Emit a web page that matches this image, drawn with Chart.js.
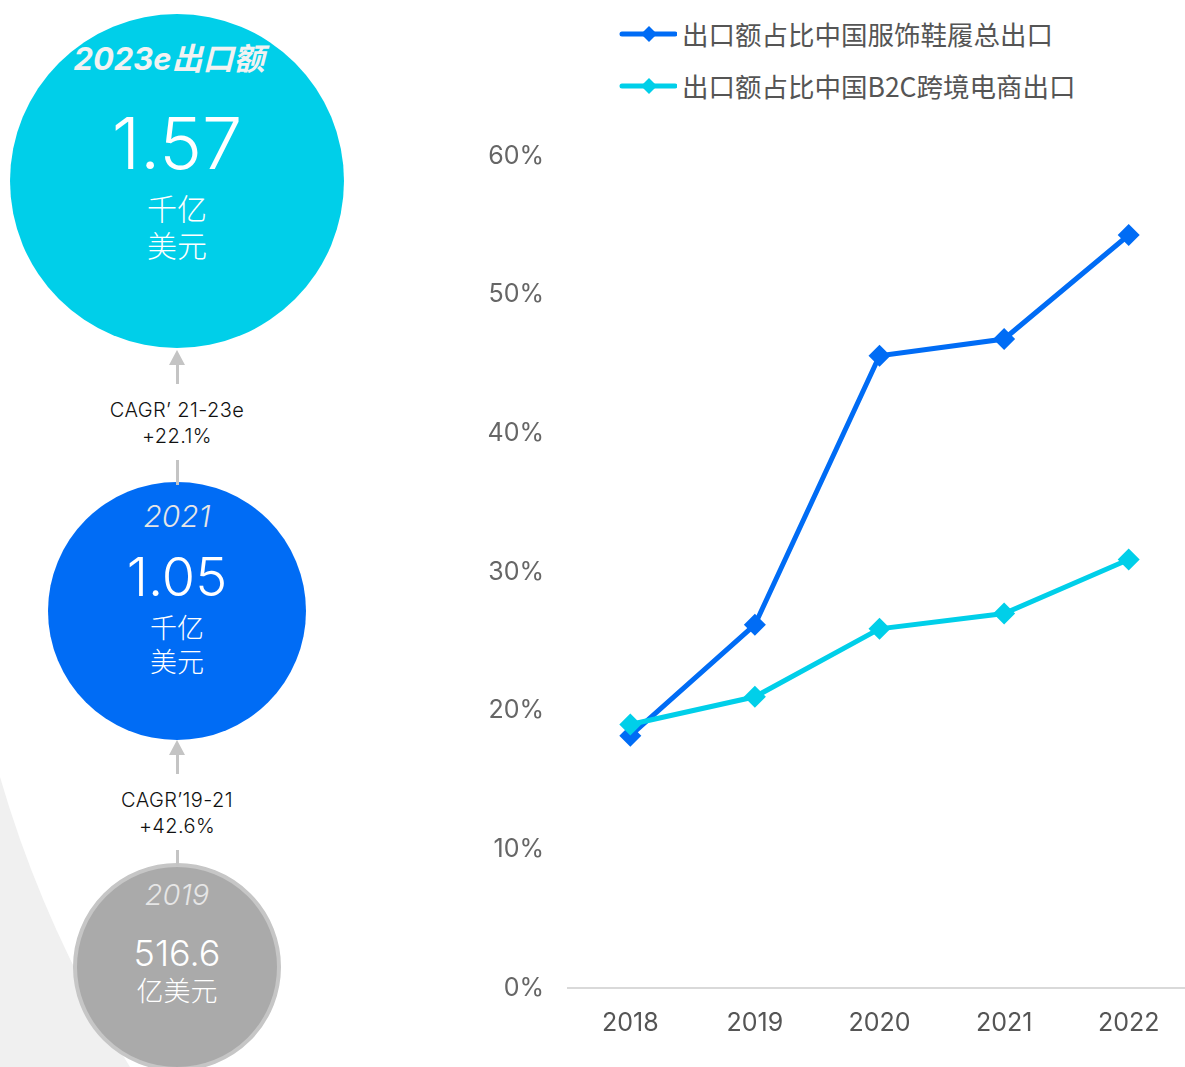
<!DOCTYPE html>
<html lang="zh-CN">
<head>
<meta charset="utf-8">
<title>出口额占比</title>
<script src="https://cdn.jsdelivr.net/npm/chart.js@4/dist/chart.umd.min.js"></script>
<style>
  html, body { margin: 0; padding: 0; background: #ffffff; }
  body { width: 1185px; height: 1067px; position: relative; overflow: hidden;
         font-family: "Inter", "Noto Sans", "Noto Sans CJK SC", sans-serif; }
  .abs { position: absolute; }
  #backdrop { left: 0; top: 0; }
  .bubble { border-radius: 50%; box-sizing: border-box; }
  .txt { position: absolute; left: 0; width: 354px; text-align: center; white-space: nowrap;
         transform: translateY(-50%); line-height: 1; }
  .arrow-line { background: #c4c4c4; width: 3px; }
  #legend { left: 617px; top: 0; }
  .leg-item { position: absolute; left: 0; display: flex; align-items: center; white-space: nowrap;
              color: #555; font-size: 26.5px; font-family: "Noto Sans CJK SC", "Noto Sans", sans-serif; }
  .leg-item svg { margin-right: 5px; }
  #chartBox { left: 460px; top: 0; width: 742px; height: 1067px; }
</style>
</head>
<body>
<svg id="backdrop" class="abs" width="360" height="1067">
  <path d="M0,777 A1150,1150 0 0 0 130,1067 L0,1067 Z" fill="#f0f0f0"/>
</svg>
<div id="bubbles"></div>
<div id="legend" class="abs"></div>
<div id="chartBox" class="abs"><canvas id="chart"></canvas></div>

<script>
// Share of China's exports, by year
const years = ['2018', '2019', '2020', '2021', '2022'];
const shareOfApparelFootwear = [18.2, 26.2, 45.6, 46.8, 54.3];
const shareOfB2CCrossBorder = [19.0, 21.0, 25.9, 27.0, 30.9];
const seriesNames = ['出口额占比中国服饰鞋履总出口', '出口额占比中国B2C跨境电商出口'];
const seriesColors = ['#006cf5', '#00cfe9'];
const yTickMax = 60;
const yTickStep = 10;

// Export value bubbles (top to bottom) and the growth rates between them
const bubbleTitles = ['2023e出口额', '2021', '2019'];
const bubbleValues = ['1.57', '1.05', '516.6'];
const bubbleUnits = [['千亿', '美元'], ['千亿', '美元'], ['亿美元']];
const cagrLabels = [['CAGR’ 21-23e', '+22.1%'], ['CAGR’19-21', '+42.6%']];

// ---- bubbles ----
const bubbleLayout = [
  { cy: 181, r: 167, fill: '#00cfe9', border: 0,
    title: { y: 58, size: 31, weight: 700, color: '#f2f2f2', dx: -8 },
    value: { y: 143, size: 72 },
    units: [{ y: 207, size: 30 }, { y: 244, size: 30 }] },
  { cy: 611, r: 129, fill: '#006cf5', border: 0,
    title: { y: 516, size: 30, weight: 300, color: '#e6e6e6', dx: 0 },
    value: { y: 577, size: 54 },
    units: [{ y: 626, size: 27 }, { y: 660, size: 27 }] },
  { cy: 967, r: 104, fill: '#aaaaaa', border: 4,
    title: { y: 894, size: 29, weight: 300, color: '#e6e6e6', dx: 0 },
    value: { y: 953, size: 36 },
    units: [{ y: 989, size: 27 }] }
];
const cx = 177;
const host = document.getElementById('bubbles');

function addText(parent, text, y, size, opts) {
  const d = document.createElement('div');
  d.className = 'txt';
  d.textContent = text;
  d.style.top = y + 'px';
  d.style.fontSize = size + 'px';
  d.style.color = opts.color || '#ffffff';
  d.style.fontWeight = opts.weight || 400;
  if (opts.italic) d.style.fontStyle = 'italic';
  if (opts.family) d.style.fontFamily = opts.family;
  if (opts.spacing) d.style.letterSpacing = opts.spacing;
  if (opts.dx) d.style.left = opts.dx + 'px';
  parent.appendChild(d);
  return d;
}

bubbleLayout.forEach((b, i) => {
  const c = document.createElement('div');
  c.className = 'abs bubble';
  c.style.left = (cx - b.r) + 'px';
  c.style.top = (b.cy - b.r) + 'px';
  c.style.width = (2 * b.r) + 'px';
  c.style.height = (2 * b.r) + 'px';
  c.style.background = b.fill;
  if (b.border) c.style.border = b.border + 'px solid #c6c6c6';
  host.appendChild(c);
  addText(host, bubbleTitles[i], b.title.y, b.title.size,
    { italic: true, weight: b.title.weight, color: b.title.color, dx: b.title.dx,
      family: '"Inter", "Noto Sans CJK SC", sans-serif' });
  addText(host, bubbleValues[i], b.value.y, b.value.size, { weight: 300 });
  bubbleUnits[i].forEach((u, k) => {
    addText(host, u, b.units[k].y, b.units[k].size,
      { weight: 300, family: '"Noto Sans CJK SC", sans-serif' });
  });
});

// ---- arrows and CAGR labels between bubbles ----
const arrowLayout = [
  { tip: 350, lineEnd: 384, gapLine: [460, 485], text: [410, 436] },
  { tip: 740, lineEnd: 774, gapLine: [850, 866], text: [800, 826] }
];
arrowLayout.forEach((a, i) => {
  const head = document.createElement('div');
  head.className = 'abs';
  head.style.left = (cx - 8) + 'px';
  head.style.top = a.tip + 'px';
  head.style.width = '0'; head.style.height = '0';
  head.style.borderLeft = '8px solid transparent';
  head.style.borderRight = '8px solid transparent';
  head.style.borderBottom = '15px solid #c4c4c4';
  host.appendChild(head);
  const l1 = document.createElement('div');
  l1.className = 'abs arrow-line';
  l1.style.left = (cx - 1.5) + 'px';
  l1.style.top = (a.tip + 14) + 'px';
  l1.style.height = (a.lineEnd - a.tip - 14) + 'px';
  host.appendChild(l1);
  const l2 = document.createElement('div');
  l2.className = 'abs arrow-line';
  l2.style.left = (cx - 1.5) + 'px';
  l2.style.top = a.gapLine[0] + 'px';
  l2.style.height = (a.gapLine[1] - a.gapLine[0]) + 'px';
  host.appendChild(l2);
  cagrLabels[i].forEach((t, k) => {
    addText(host, t, a.text[k], 20, { color: '#111111', weight: 300, spacing: '0.4px' });
  });
});

// ---- legend (line with diamond marker) ----
const legend = document.getElementById('legend');
seriesNames.forEach((name, i) => {
  const item = document.createElement('div');
  item.className = 'leg-item';
  item.style.top = (i === 0 ? 14 : 66) + 'px';
  const color = seriesColors[i];
  item.innerHTML =
    '<svg width="60" height="36" viewBox="0 0 60 36">' +
    '<line x1="5" y1="18" x2="58" y2="18" stroke="' + color + '" stroke-width="5" stroke-linecap="round"/>' +
    '<path d="M32 10 L40 18 L32 26 L24 18 Z" fill="' + color + '"/></svg>';
  const span = document.createElement('span');
  span.textContent = name;
  item.appendChild(span);
  legend.appendChild(item);
});

// ---- line chart ----
const pct = v => v + '%';
new Chart(document.getElementById('chart'), {
  type: 'line',
  data: {
    labels: years,
    datasets: [
      {
        label: seriesNames[0],
        data: shareOfApparelFootwear,
        borderColor: seriesColors[0],
        backgroundColor: seriesColors[0],
        borderWidth: 5,
        pointStyle: 'rectRot',
        pointRadius: 11,
        pointBorderWidth: 0,
        tension: 0,
        order: 2
      },
      {
        label: seriesNames[1],
        data: shareOfB2CCrossBorder,
        borderColor: seriesColors[1],
        backgroundColor: seriesColors[1],
        borderWidth: 5,
        pointStyle: 'rectRot',
        pointRadius: 11,
        pointBorderWidth: 0,
        tension: 0,
        order: 1
      }
    ]
  },
  options: {
    responsive: true,
    maintainAspectRatio: false,
    animation: false,
    layout: { padding: { top: 156, bottom: 0, left: 0, right: 0 } },
    plugins: { legend: { display: false }, tooltip: { enabled: false } },
    scales: {
      x: {
        offset: true,
        grid: { display: false, drawTicks: false },
        border: { display: true, color: '#d9d9d9', width: 2 },
        ticks: { color: '#555', padding: 20, font: { family: 'Inter, "Noto Sans", sans-serif', size: 25 } },
        afterFit: s => { s.height = 79; }
      },
      y: {
        min: 0,
        max: yTickMax,
        grid: { display: false, drawTicks: false },
        border: { display: false },
        ticks: { stepSize: yTickStep, callback: pct, color: '#666', padding: 24,
                 font: { family: 'Inter, "Noto Sans", sans-serif', size: 25 } },
        afterFit: s => { s.width = 108; }
      }
    }
  }
});
</script>
</body>
</html>
